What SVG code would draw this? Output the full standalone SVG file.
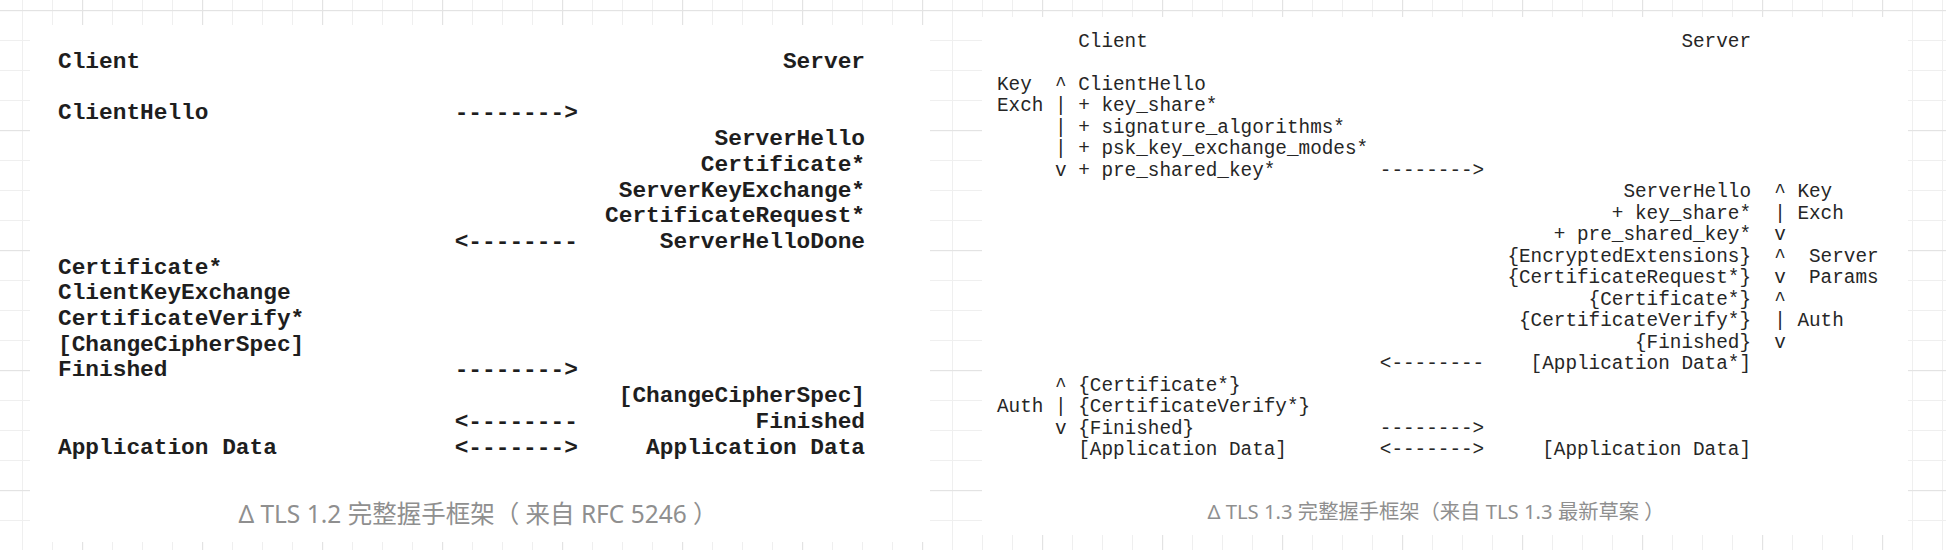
<svg xmlns="http://www.w3.org/2000/svg" width="1946" height="550" viewBox="0 0 1946 550">
<defs>
<pattern id="gridMinor" patternUnits="userSpaceOnUse" x="22" y="10" width="30" height="30">
<rect x="0" y="0" width="30" height="1" fill="#efefef"/>
<rect x="0" y="0" width="1" height="30" fill="#efefef"/>
</pattern>
<pattern id="gridMajor" patternUnits="userSpaceOnUse" x="82" y="10" width="120" height="120">
<rect x="0" y="0" width="120" height="1.2" fill="#e3e3e3"/>
<rect x="0" y="0" width="1.2" height="120" fill="#e3e3e3"/>
</pattern>
</defs>
<style>
.l{font-family:'Courier New','Liberation Mono',monospace;font-size:22.8px;font-weight:bold;fill:#1e1e1e}
.r{font-family:'Courier New','Liberation Mono',monospace;font-size:19.33px;fill:#262626}
.e{text-anchor:end}
.cap{font-family:'Noto Sans','Noto Sans CJK SC',sans-serif;fill:#8f8f8f;text-anchor:middle}
.panel{fill:#ffffff}
</style>
<rect width="1946" height="550" fill="#ffffff"/>
<rect width="1946" height="550" fill="url(#gridMinor)"/>
<rect width="1946" height="550" fill="url(#gridMajor)"/>
<rect class="panel" x="30" y="25" width="900" height="517"/>
<rect class="panel" x="982" y="17" width="926" height="518"/>

<g id="tls12">
<g id="tls12-client-header"><text class="l" x="58" y="68">Client</text></g>
<g id="tls12-server-header"><text class="l e" x="865" y="68">Server</text></g>
<g id="tls12-clienthello"><text class="l" x="58" y="119.4">ClientHello</text></g>
<g id="tls12-serverhello"><text class="l e" x="865" y="145.1">ServerHello</text></g>
<g id="tls12-server-certificate"><text class="l e" x="865" y="170.8">Certificate*</text></g>
<g id="tls12-serverkeyexchange"><text class="l e" x="865" y="196.5">ServerKeyExchange*</text></g>
<g id="tls12-certificaterequest"><text class="l e" x="865" y="222.2">CertificateRequest*</text></g>
<g id="tls12-serverhellodone"><text class="l e" x="865" y="247.9">ServerHelloDone</text></g>
<g id="tls12-client-certificate"><text class="l" x="58" y="273.6">Certificate*</text></g>
<g id="tls12-clientkeyexchange"><text class="l" x="58" y="299.3">ClientKeyExchange</text></g>
<g id="tls12-certificateverify"><text class="l" x="58" y="325">CertificateVerify*</text></g>
<g id="tls12-client-ccs"><text class="l" x="58" y="350.7">[ChangeCipherSpec]</text></g>
<g id="tls12-client-finished"><text class="l" x="58" y="376.4">Finished</text></g>
<g id="tls12-server-ccs"><text class="l e" x="865" y="402.1">[ChangeCipherSpec]</text></g>
<g id="tls12-server-finished"><text class="l e" x="865" y="427.8">Finished</text></g>
<g id="tls12-client-appdata"><text class="l" x="58" y="453.5">Application Data</text></g>
<g id="tls12-server-appdata"><text class="l e" x="865" y="453.5">Application Data</text></g>
</g>

<g id="tls13">
<g id="tls13-client-header"><text class="r" x="1078.2" y="46.5">Client</text></g>
<g id="tls13-server-header"><text class="r e" x="1751" y="46.5">Server</text></g>
<g id="tls13-client-keyexch-label"><text class="r" x="997" y="89.5">Key</text><text class="r" x="997" y="111">Exch</text>
<text class="r" x="1055" y="89.5">^</text><text class="r" x="1055" y="111">|</text><text class="r" x="1055" y="132.5">|</text><text class="r" x="1055" y="154">|</text><text class="r" x="1055" y="175.5">v</text></g>
<g id="tls13-clienthello"><text class="r" x="1078.2" y="89.5">ClientHello</text>
<text class="r" x="1078.2" y="111">+ key_share*</text>
<text class="r" x="1078.2" y="132.5">+ signature_algorithms*</text>
<text class="r" x="1078.2" y="154">+ psk_key_exchange_modes*</text>
<text class="r" x="1078.2" y="175.5">+ pre_shared_key*</text></g>
<g id="tls13-serverhello"><text class="r e" x="1751" y="197">ServerHello</text>
<text class="r e" x="1751" y="218.5">+ key_share*</text>
<text class="r e" x="1751" y="240">+ pre_shared_key*</text></g>
<g id="tls13-server-keyexch-label"><text class="r" x="1774.2" y="197">^</text><text class="r" x="1774.2" y="218.5">|</text><text class="r" x="1774.2" y="240">v</text>
<text class="r" x="1797.4" y="197">Key</text><text class="r" x="1797.4" y="218.5">Exch</text></g>
<g id="tls13-server-params"><text class="r e" x="1751" y="261.5">{EncryptedExtensions}</text>
<text class="r e" x="1751" y="283">{CertificateRequest*}</text></g>
<g id="tls13-server-params-label"><text class="r" x="1774.2" y="261.5">^</text><text class="r" x="1774.2" y="283">v</text>
<text class="r" x="1809" y="261.5">Server</text><text class="r" x="1809" y="283">Params</text></g>
<g id="tls13-server-auth"><text class="r e" x="1751" y="304.5">{Certificate*}</text>
<text class="r e" x="1751" y="326">{CertificateVerify*}</text>
<text class="r e" x="1751" y="347.5">{Finished}</text></g>
<g id="tls13-server-auth-label"><text class="r" x="1774.2" y="304.5">^</text><text class="r" x="1774.2" y="326">|</text><text class="r" x="1774.2" y="347.5">v</text>
<text class="r" x="1797.4" y="326">Auth</text></g>
<g id="tls13-server-early-appdata"><text class="r e" x="1751" y="369">[Application Data*]</text></g>
<g id="tls13-client-auth-label"><text class="r" x="1055" y="390.5">^</text><text class="r" x="1055" y="412">|</text><text class="r" x="1055" y="433.5">v</text>
<text class="r" x="997" y="412">Auth</text></g>
<g id="tls13-client-auth"><text class="r" x="1078.2" y="390.5">{Certificate*}</text>
<text class="r" x="1078.2" y="412">{CertificateVerify*}</text>
<text class="r" x="1078.2" y="433.5">{Finished}</text></g>
<g id="tls13-client-appdata"><text class="r" x="1078.2" y="455">[Application Data]</text></g>
<g id="tls13-server-appdata"><text class="r e" x="1751" y="455">[Application Data]</text></g>
</g>

<g id="connectors">
<text class="l" x="454.7" y="119.4">--------&gt;</text>
<text class="l" x="454.7" y="247.9">&lt;--------</text>
<text class="l" x="454.7" y="376.4">--------&gt;</text>
<text class="l" x="454.7" y="427.8">&lt;--------</text>
<text class="l" x="454.7" y="453.5">&lt;-------&gt;</text>
<text class="r" x="1379.8" y="175.5">--------&gt;</text>
<text class="r" x="1379.8" y="369">&lt;--------</text>
<text class="r" x="1379.8" y="433.5">--------&gt;</text>
<text class="r" x="1379.8" y="455">&lt;-------&gt;</text>
</g>

<g id="captions">
<text class="cap" x="478" y="522.5" font-size="24.5">Δ TLS 1.2 完整握手框架（ 来自 RFC 5246 ）</text>
<text class="cap" x="1436" y="519" font-size="20.3">Δ TLS 1.3 完整握手框架（来自 TLS 1.3 最新草案 ）</text>
</g>
</svg>
